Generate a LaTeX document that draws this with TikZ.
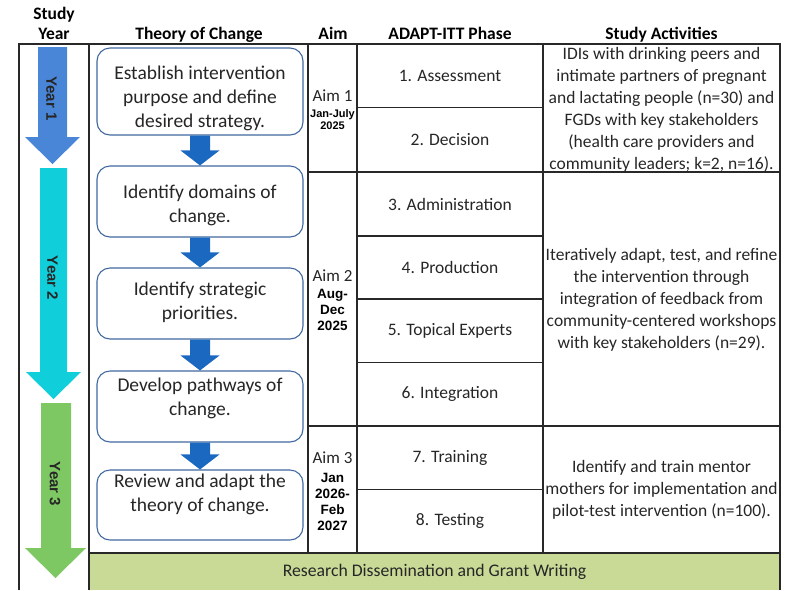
\documentclass[tikz,border=0pt]{standalone}
\usepackage{fontspec}
\setmainfont{Carlito}
\newfontfamily\arialf{Liberation Sans}
\usetikzlibrary{calc}
\definecolor{yrone}{RGB}{74,134,216}
\definecolor{yrtwo}{RGB}{16,206,218}
\definecolor{yrthree}{RGB}{126,200,100}
\definecolor{tocblue}{RGB}{27,104,192}
\definecolor{boxedge}{RGB}{65,105,160}
\definecolor{bandgreen}{RGB}{201,218,151}
\definecolor{gridline}{RGB}{40,40,40}
\begin{document}
\begin{tikzpicture}[x=1pt,y=-1pt,
  tline/.style={draw=gridline,line width=1.2pt},
  hdr/.style={font=\fontsize{17.5}{20}\selectfont\bfseries,anchor=base,inner sep=0pt,align=center},
  tocbox/.style={draw=boxedge,line width=1.1pt,fill=white,rounded corners=13pt,minimum width=206pt,inner sep=0pt},
  toctext/.style={font=\fontsize{19.5}{24}\selectfont,align=center,inner sep=0pt,text=black!85},
  tocarrow/.style={fill=tocblue},
  phase/.style={font=\fontsize{17.5}{20}\selectfont,inner sep=0pt,text=black!85},
  act/.style={font=\fontsize{17.5}{22}\selectfont,align=center,inner sep=0pt,text=black!85},
  aimlbl/.style={font=\fontsize{17}{20}\selectfont,inner sep=0pt,text=black!85},
  aimdate/.style={font=\arialf\bfseries\fontsize{13.5}{16}\selectfont,align=center,inner sep=0pt},
  aimdatesmall/.style={font=\arialf\bfseries\fontsize{11}{12.5}\selectfont,align=center,inner sep=0pt},
  yearlbl/.style={font=\arialf\bfseries\fontsize{15}{17}\selectfont,rotate=-90,inner sep=0pt,text=black!85}]
\useasboundingbox (0,0) rectangle (786,590);

% bottom band
\fill[bandgreen] (89,553) rectangle (780,590);
\node[font=\fontsize{17.7}{20}\selectfont,inner sep=0pt,text=black!85] (band) at (434.5,572) {Research Dissemination and Grant Writing};

% grid
\draw[tline] (19,590) -- (19,44) -- (780,44) -- (780,590);
\draw[tline] (89,44) -- (89,590);
\draw[tline] (308,44) -- (308,553);
\draw[tline] (357,44) -- (357,553);
\draw[tline] (543,44) -- (543,553);
\draw[tline] (89,553) -- (780,553);
\draw[tline] (308,172) -- (780,172);
\draw[tline] (308,426) -- (780,426);
\foreach \yy in {107.5,236,299,362.5,489.5} {\draw[tline] (357,\yy) -- (543,\yy);}

% headers
\node[hdr] (hstudy) at (54,19) {Study};
\node[hdr] (hyear) at (54,39) {Year};
\node[hdr] (htoc) at (199,39) {Theory of Change};
\node[hdr] (haim) at (333,39) {Aim};
\node[hdr] (hphase) at (450,39) {ADAPT-ITT Phase};
\node[hdr] (hact) at (661.5,39) {Study Activities};

% year arrows
\fill[yrone] (38,47) -- (67,47) -- (67,137) -- (80,137) -- (52.5,164) -- (25,137) -- (38,137) -- cycle;
\fill[yrtwo] (40,168) -- (67,168) -- (67,372) -- (81,372) -- (53.5,399) -- (26,372) -- (40,372) -- cycle;
\fill[yrthree] (41,403) -- (71,403) -- (71,548) -- (86,548) -- (55.5,578) -- (25,548) -- (41,548) -- cycle;
\node[yearlbl] (y1) at (51.5,98.5) {Year 1};
\node[yearlbl] (y2) at (52.5,278) {Year 2};
\node[yearlbl] (y3) at (55,484) {Year 3};

% theory of change boxes
\node[tocbox,minimum height=87pt] (b1) at (200,91.5) {};
\node[tocbox,minimum height=71pt] (b2) at (200,201.5) {};
\node[tocbox,minimum height=71pt] (b3) at (200,303.5) {};
\node[tocbox,minimum height=71pt] (b4) at (200,406.5) {};
\node[tocbox,minimum height=70pt] (b5) at (200,505) {};
\node[toctext] (t1) at (200,98) {Establish intervention\\purpose and define\\desired strategy.};
\node[toctext] (t2) at (200,205.5) {Identify domains of\\change.};
\node[toctext] (t3) at (200,302) {Identify strategic\\priorities.};
\node[toctext] (t4) at (200,398) {Develop pathways of\\change.};
\node[toctext] (t5) at (200,494) {Review and adapt the\\theory of change.};

\foreach \a/\b in {b1/b2,b2/b3,b3/b4,b4/b5} {
  \fill[tocarrow] ($(\a.south)+(-10,0)$) -- ($(\b.north)+(-10,-15)$) -- ($(\b.north)+(-19.5,-15)$) -- (\b.north)
    -- ($(\b.north)+(19.5,-15)$) -- ($(\b.north)+(10,-15)$) -- ($(\a.south)+(10,0)$) -- cycle;
}

% aims
\node[aimlbl] (a1) at (332.5,96) {Aim 1};
\node[aimdatesmall] (d1) at (332.5,119.5) {Jan-July\\2025};
\node[aimlbl] (a2) at (332.5,276) {Aim 2};
\node[aimdate] (d2) at (332.5,309.5) {Aug-\\Dec\\2025};
\node[aimlbl] (a3) at (332.5,458) {Aim 3};
\node[aimdate] (d3) at (332.5,501.5) {Jan\\2026-\\Feb\\2027};

% phases
\node[phase] (p1) at (450,75.7) {1. Assessment};
\node[phase] (p2) at (450,139.7) {2. Decision};
\node[phase] (p3) at (450,204) {3. Administration};
\node[phase] (p4) at (450,267.5) {4. Production};
\node[phase] (p5) at (450,331) {5. Topical Experts};
\node[phase] (p6) at (450,394) {6. Integration};
\node[phase] (p7) at (450,458) {7. Training};
\node[phase] (p8) at (450,521) {8. Testing};

% activities
\node[act] (s1) at (661.5,110) {IDIs with drinking peers and\\intimate partners of pregnant\\and lactating people (n=30) and\\FGDs with key stakeholders\\(health care providers and\\community leaders; k=2, n=16).};
\node[act] (s2) at (661.5,300) {Iteratively adapt, test, and refine\\the intervention through\\integration of feedback from\\community-centered workshops\\with key stakeholders (n=29).};
\node[act] (s3) at (661.5,490) {Identify and train mentor\\mothers for implementation and\\pilot-test intervention (n=100).};
\end{tikzpicture}
\end{document}
